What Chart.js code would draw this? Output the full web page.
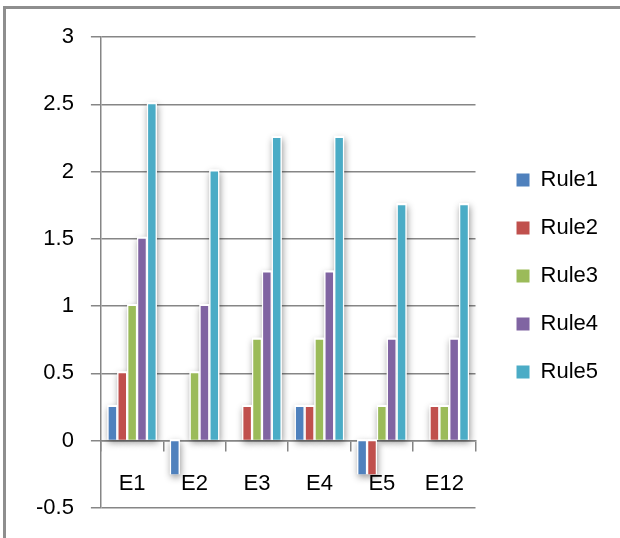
<!DOCTYPE html>
<html>
<head>
<meta charset="utf-8">
<script src="https://cdn.jsdelivr.net/npm/chart.js@4"></script>
<style>
  html, body { margin: 0; padding: 0; background: #ffffff; }
  #wrap { position: relative; width: 620px; height: 538px; }
</style>
</head>
<body>
<div id="wrap"><canvas id="chart" width="620" height="538"></canvas></div>
<script>
// Categories and per-rule values
const categories = ['E1', 'E2', 'E3', 'E4', 'E5', 'E12'];
const rule1 = [0.25, -0.25, 0, 0.25, -0.25, 0];
const rule2 = [0.5, 0, 0.25, 0.25, -0.25, 0.25];
const rule3 = [1, 0.5, 0.75, 0.75, 0.25, 0.25];
const rule4 = [1.5, 1, 1.25, 1.25, 0.75, 0.75];
const rule5 = [2.5, 2, 2.25, 2.25, 1.75, 1.75];
const seriesNames = ['Rule1', 'Rule2', 'Rule3', 'Rule4', 'Rule5'];
const seriesColors = ['#4F81BD', '#C0504D', '#9BBB59', '#8064A2', '#4BACC6'];
const yTicks = { min: -0.5, max: 3, step: 0.5 };

const BAR_PCT = 0.76;
const FONT = { family: "'Liberation Sans', Arial, sans-serif", size: 22 };
const GRID = '#868686';

// Gray frame along the top and left edges
const framePlugin = {
  id: 'frame',
  beforeDraw(chart) {
    const ctx = chart.ctx;
    ctx.save();
    ctx.fillStyle = '#8e8e8e';
    ctx.fillRect(3, 6, chart.width - 3, 3);
    ctx.fillRect(3, 6, 3, chart.height - 6);
    ctx.restore();
  }
};

// Give the legend a wider left margin than its item spacing
const legendGapPlugin = {
  id: 'legendGap',
  afterInit(chart) {
    const lg = chart.legend;
    if (!lg) return;
    const extra = 7, shiftX = 15, shiftY = 3;
    const fit = lg.fit.bind(lg);
    lg.fit = function () { fit(); this.width += extra; };
    const draw = lg.draw.bind(lg);
    lg.draw = function (area) {
      this.ctx.save();
      this.ctx.translate(shiftX, shiftY);
      draw(area);
      this.ctx.restore();
    };
  }
};

// White halo with a soft drop shadow behind each bar
const haloPlugin = {
  id: 'halo',
  beforeDatasetsDraw(chart) {
    const ctx = chart.ctx;
    const rects = [];
    chart.data.datasets.forEach((ds, di) => {
      const meta = chart.getDatasetMeta(di);
      if (meta.hidden) return;
      meta.data.forEach((el, i) => {
        if (ds.data[i] === 0) return;
        const p = el.getProps(['x', 'y', 'base', 'width'], true);
        const full = p.width / BAR_PCT;
        const top = Math.min(p.y, p.base);
        const bottom = Math.max(p.y, p.base);
        rects.push([p.x - full / 2, top - 2, full, bottom - top + 2]);
      });
    });
    ctx.save();
    ctx.fillStyle = '#ffffff';
    ctx.shadowColor = 'rgba(0,0,0,0.42)';
    ctx.shadowBlur = 7;
    ctx.shadowOffsetX = 1;
    ctx.shadowOffsetY = 3;
    rects.forEach(r => ctx.fillRect(r[0], r[1], r[2], r[3]));
    ctx.shadowColor = 'rgba(0,0,0,0)';
    rects.forEach(r => ctx.fillRect(r[0], r[1], r[2], r[3]));
    ctx.restore();
  }
};

const seriesData = [rule1, rule2, rule3, rule4, rule5];

new Chart(document.getElementById('chart'), {
  type: 'bar',
  data: {
    labels: categories,
    datasets: seriesNames.map((name, k) => ({
      label: name,
      data: seriesData[k],
      backgroundColor: seriesColors[k],
      borderWidth: 0,
      categoryPercentage: 0.79,
      barPercentage: BAR_PCT
    }))
  },
  options: {
    responsive: false,
    animation: false,
    devicePixelRatio: 1,
    layout: { padding: { left: 19, top: 37, bottom: 29, right: 20 } },
    plugins: {
      legend: {
        position: 'right',
        labels: {
          font: FONT,
          color: '#000000',
          boxWidth: 13,
          boxHeight: 13,
          padding: 26
        }
      },
      tooltip: { enabled: false }
    },
    scales: {
      x: {
        position: { y: 0 },
        grid: {
          drawOnChartArea: false,
          drawTicks: true,
          tickLength: 10,
          color: GRID,
          lineWidth: 1.5
        },
        border: { display: true, color: GRID, width: 1.5 },
        ticks: { font: FONT, color: '#000000', padding: 20, maxRotation: 0 }
      },
      y: {
        min: yTicks.min,
        max: yTicks.max,
        grid: {
          color: GRID,
          lineWidth: 1.5,
          tickLength: 10
        },
        border: { display: true, color: GRID, width: 1.5 },
        ticks: {
          font: FONT,
          color: '#000000',
          stepSize: yTicks.step,
          padding: 17,
          callback: (v) => String(Math.round(v * 100) / 100)
        }
      }
    }
  },
  plugins: [framePlugin, legendGapPlugin, haloPlugin]
});
</script>
</body>
</html>
